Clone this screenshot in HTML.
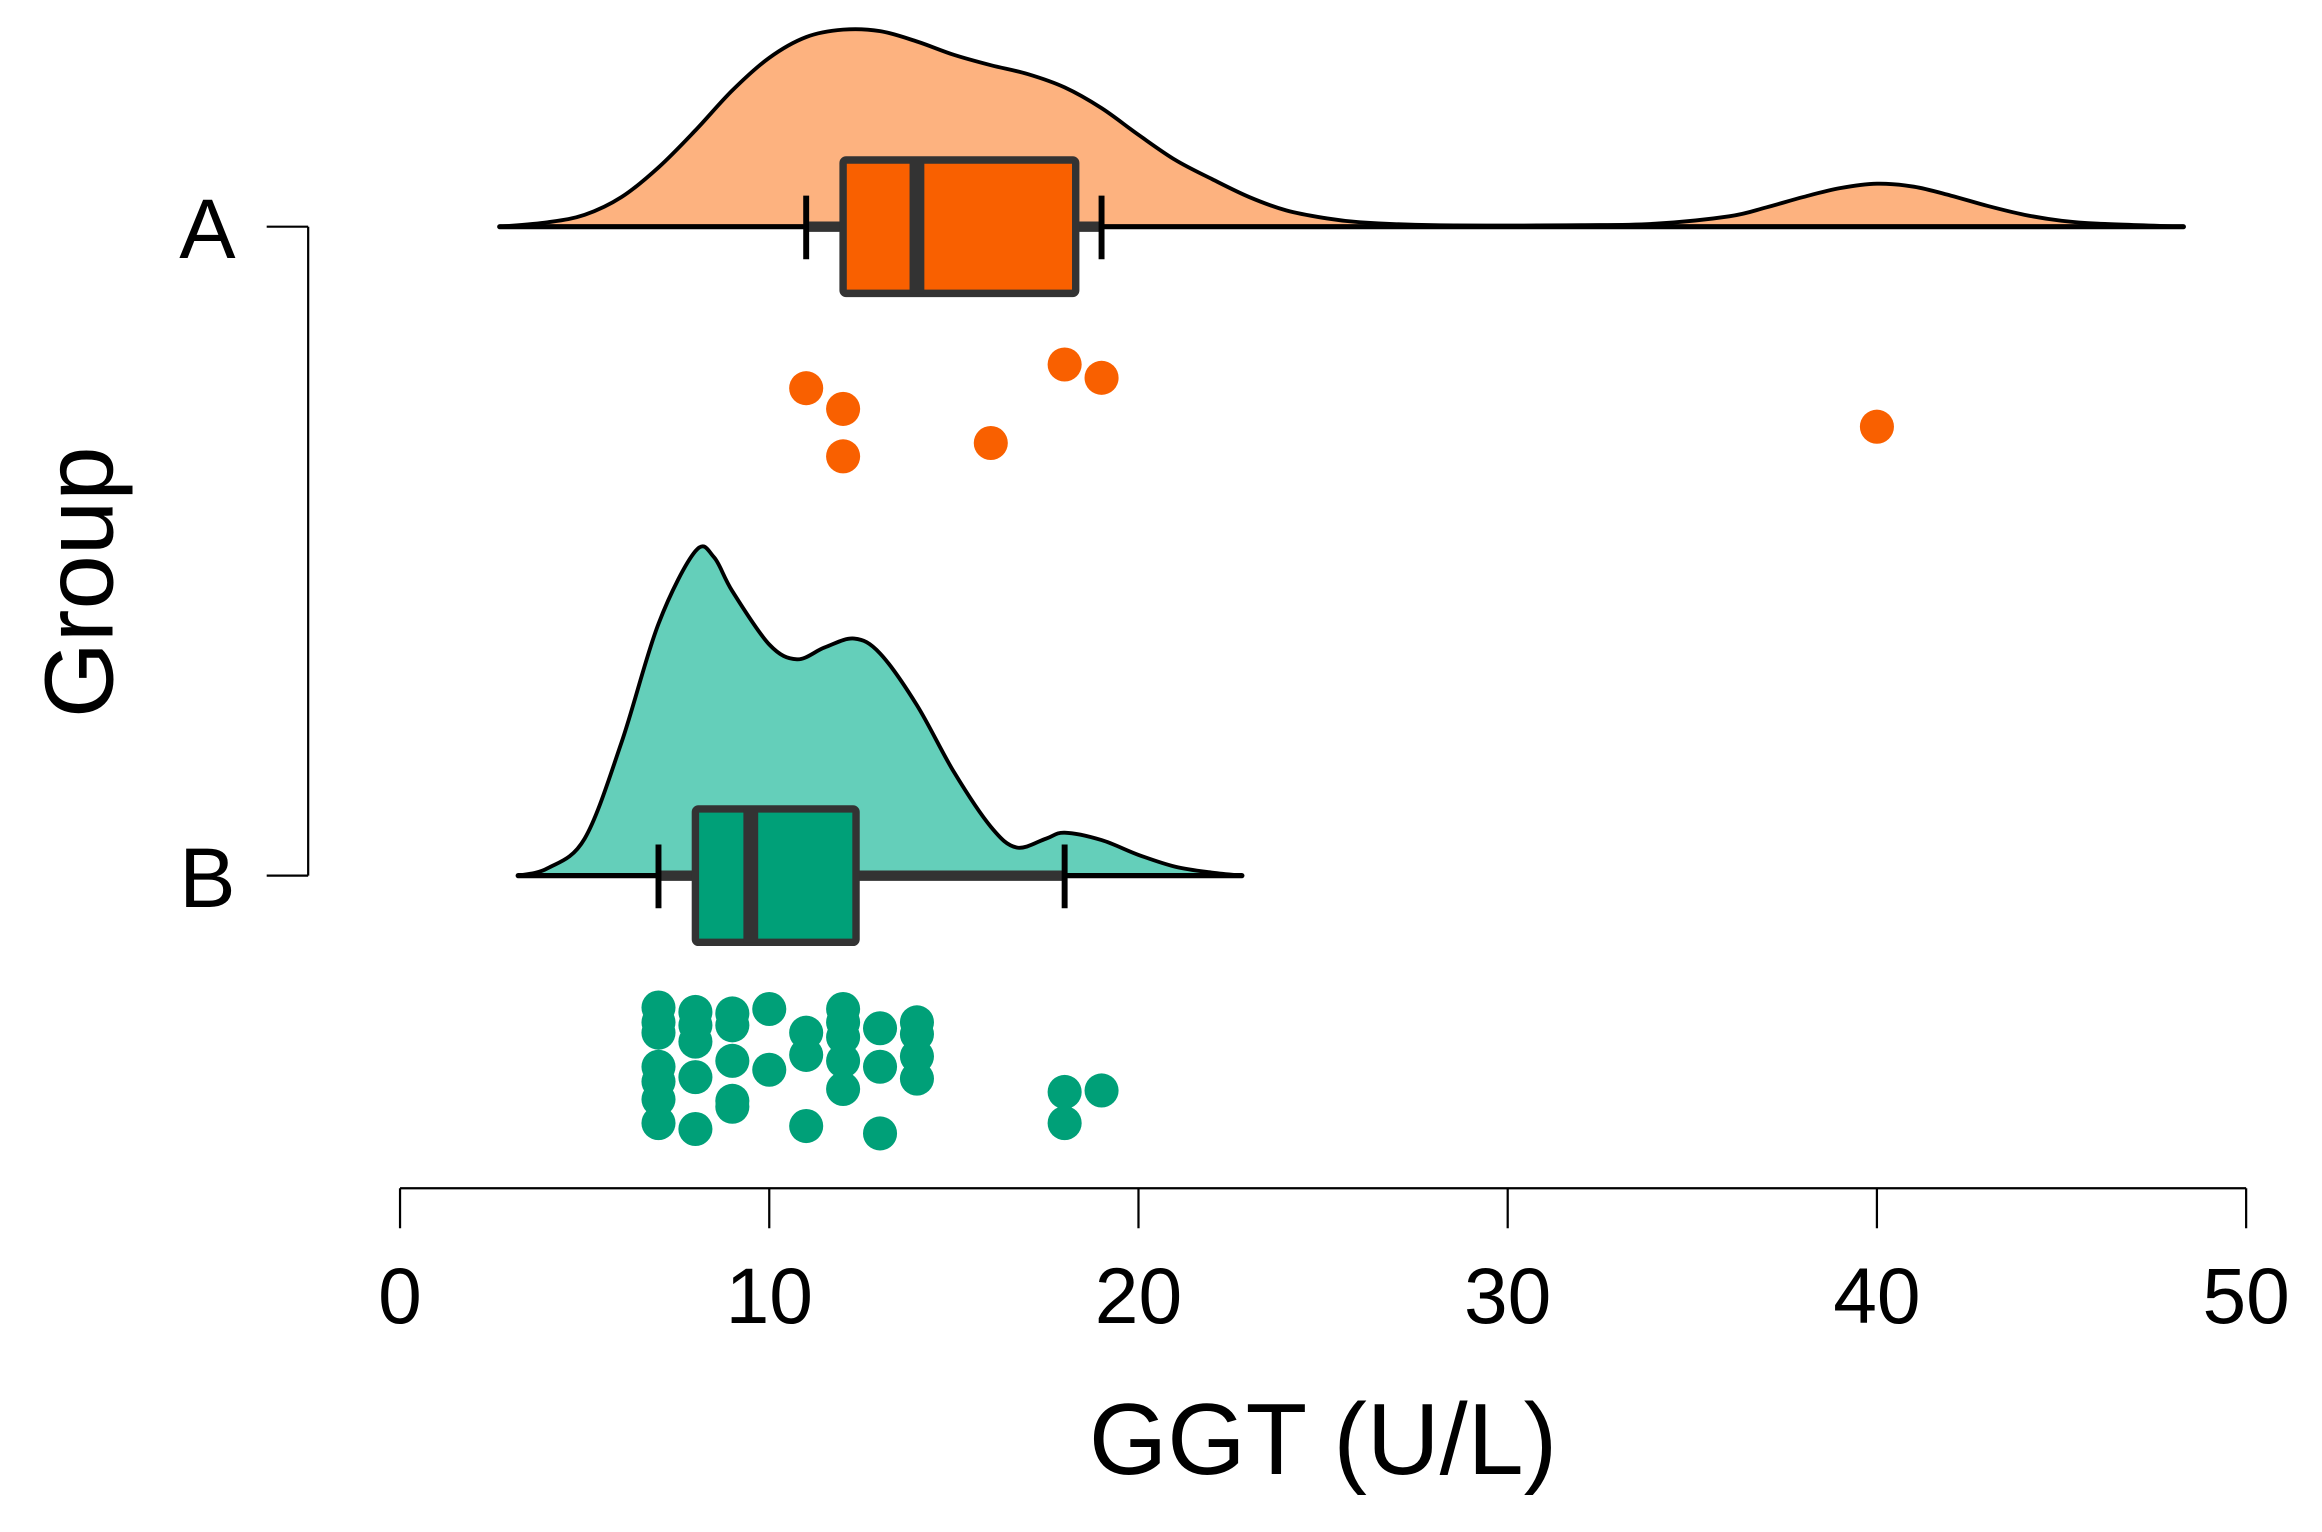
<!DOCTYPE html>
<html><head><meta charset="utf-8"><style>
html,body{margin:0;padding:0;background:#fff;}
svg{display:block;}
text{font-family:"Liberation Sans",Arial,sans-serif;fill:#000;}
</style></head><body>
<svg id="chart" width="2322" height="1532" viewBox="0 0 1567.2 1034" preserveAspectRatio="none" xmlns="http://www.w3.org/2000/svg">
<g id="layer"></g>
</svg>
<script>
const groups = ['A','B'];
const ticks = [0,10,20,30,40,50];
const densAX = [2.7,4,5,6,7,8,9,10,11,12,13,14,15,16,17,18,19,20,21,22,23,24,25,26,28,32,34,36,37,38,39,40,41,42,43,44,45,46,48.3];
const densAY = [0,3,8,20,40,65,92,114,128,133,132,125,116,109,103,94,80,62,45,32,20,11,6,3,1,1,2,7,13,20,26,29,27,21,14,8,4,2,0];
const densBX = [3.2,4,5,6,7,8,8.5,9,10,10.75,11.5,12.3,13,14,15,16,16.7,17.5,18,19,20,21,22,22.8];
const densBY = [0,5,25,90,170,219,215,192,156,146,154,160,150,115,70,33,19,25,29,24,14,6,2,0];
const boxA = [11,12,14,18.3,19];
const boxB = [7,8,9.5,12.35,18];
const ptsAX = [11,12,12,16,18,19,40];
const ptsAJ = [262,276,308,299,246,255,288];
const ptsBX = [7,7,7,7,7,7,7,8,8,8,8,8,9,9,9,9,9,10,10,11,11,11,12,12,12,12,12,13,13,13,14,14,14,14,18,18,19];
const ptsBJ = [680,690,697,720,730,742,758,683,692,703,727,762,684,692,716,743,747,681,722,697,712,760,681,690,700,716,735,694,720,765,690,698,713,728,737,758,736];

const NS='http://www.w3.org/2000/svg';
const g=document.getElementById('layer');
const X0=270, X1=1516;
const sx=v=>X0+(v-0)/(50-0)*(X1-X0);
const baseA=153, baseB=591;
function el(tag,attrs,parent){const e=document.createElementNS(NS,tag);for(const k in attrs)e.setAttribute(k,attrs[k]);(parent||g).appendChild(e);return e;}
function smoothPath(pts){let d='M'+pts[0][0]+','+pts[0][1];for(let i=0;i<pts.length-1;i++){const p0=pts[Math.max(i-1,0)],p1=pts[i],p2=pts[i+1],p3=pts[Math.min(i+2,pts.length-1)];const c1=[p1[0]+(p2[0]-p0[0])/6,p1[1]+(p2[1]-p0[1])/6];const c2=[p2[0]-(p3[0]-p1[0])/6,p2[1]-(p3[1]-p1[1])/6];d+=' C'+c1[0]+','+c1[1]+' '+c2[0]+','+c2[1]+' '+p2[0]+','+p2[1];}return d;}

function drawGroup(name,dx,dy,base,box,px,pj,fillD,fillB){
  const pts=dx.map((v,i)=>[sx(v),base-dy[i]]);
  const d=smoothPath(pts);
  const area=el('path',{d:d+' Z',fill:fillD,stroke:'none'});
  
  
  const line=el('path',{d:d,fill:'none',stroke:'#000','stroke-width':2.6,'stroke-linejoin':'round'});
  
  
  const bl=el('line',{x1:sx(dx[0]),x2:sx(dx[dx.length-1]),y1:base,y2:base,stroke:'#000','stroke-width':3.5,'stroke-linecap':'round'});
  
  
  const wk=el('line',{x1:sx(box[0]),x2:sx(box[4]),y1:base,y2:base,stroke:'#333','stroke-width':7});
  
  
  [box[0],box[4]].forEach((v,i)=>{const c=el('line',{x1:sx(v),x2:sx(v),y1:base-21,y2:base+22,stroke:'#000','stroke-width':4});
    
    });
  const r=el('rect',{x:sx(box[1]),y:base-45,width:sx(box[3])-sx(box[1]),height:90,fill:fillB,stroke:'#333','stroke-width':5,rx:2});
  
  
  const m=el('line',{x1:sx(box[2]),x2:sx(box[2]),y1:base-45,y2:base+45,stroke:'#333','stroke-width':10});
  
  
  px.forEach((v,i)=>{const c=el('circle',{cx:sx(v),cy:pj[i],r:11.5,fill:fillB});
    
    });
}
drawGroup('a',densAX,densAY,baseA,boxA,ptsAX,ptsAJ,'#FDB27F','#F96000');
drawGroup('b',densBX,densBY,baseB,boxB,ptsBX,ptsBJ,'#64CFBA','#00A078');

const ax=el('line',{x1:X0,x2:X1,y1:802,y2:802,stroke:'#000','stroke-width':1.5});


ticks.forEach(t=>{
  const l=el('line',{x1:sx(t),x2:sx(t),y1:802,y2:829,stroke:'#000','stroke-width':1.5});
  
  
  const tx=el('text',{x:sx(t),y:893,'text-anchor':'middle','font-size':53});
  tx.textContent=t;
  
  
});
const xt=el('text',{x:893,y:995,'text-anchor':'middle','font-size':68});
xt.textContent='GGT (U/L)';



const ay=el('line',{x1:208,x2:208,y1:baseA,y2:baseB,stroke:'#000','stroke-width':1.5});


[baseA,baseB].forEach((y,i)=>{
  const l=el('line',{x1:180,x2:208,y1:y,y2:y,stroke:'#000','stroke-width':1.5});
  
  
  const tx=el('text',{x:140,y:y+21,'text-anchor':'middle','font-size':57});
  tx.textContent=groups[i];
  
  
});
const yt=el('text',{x:0,y:0,'text-anchor':'middle','font-size':66,transform:'translate(76,393) rotate(-90)'});
yt.textContent='Group';


</script>
</body></html>
